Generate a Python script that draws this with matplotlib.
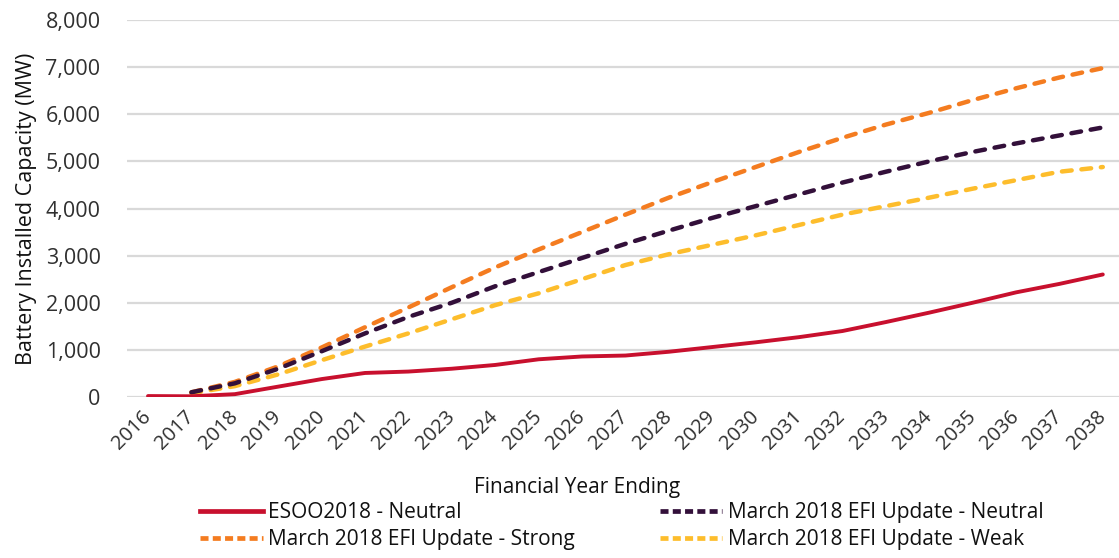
import numpy as np
import matplotlib
matplotlib.use("Agg")
import matplotlib.pyplot as plt
from matplotlib.lines import Line2D

# data (MW)
years = [str(y) for y in range(2016, 2039)]
esoo_neutral = [20, 15, 60, 220, 380, 510, 540, 600, 680, 800, 860, 880, 960,
                1060, 1160, 1270, 1400, 1590, 1790, 2000, 2220, 2400, 2600]
efi_neutral = [None, 100, 290, 600, 970, 1350, 1700, 2000, 2350, 2650, 2950, 3250,
               3530, 3800, 4050, 4300, 4550, 4780, 5000, 5200, 5380, 5550, 5720]
efi_strong = [None, 100, 320, 650, 1050, 1480, 1900, 2330, 2750, 3130, 3500, 3870,
              4230, 4560, 4880, 5200, 5500, 5780, 6030, 6300, 6550, 6780, 6980]
efi_weak = [None, 80, 230, 480, 780, 1070, 1350, 1650, 1950, 2200, 2500, 2800,
            3030, 3230, 3430, 3650, 3870, 4050, 4230, 4420, 4600, 4780, 4880]

c_red = "#C8102E"
c_purple = "#33103A"
c_orange = "#F47C20"
c_yellow = "#FDBD2C"

plt.rcParams['font.family'] = ['Open Sans', 'DejaVu Sans']

W, H = 1119, 558
fig = plt.figure(figsize=(W / 100, H / 100), dpi=100)
ax = fig.add_axes([127 / W, (H - 397) / H, (W - 127) / W, 377 / H])

x = np.arange(len(years))


def series(vals):
    return np.array([np.nan if v is None else v for v in vals], dtype=float)


dash = dict(dashes=(2.2, 2.2), dash_capstyle='round', lw=3.2)
ax.plot(x, series(efi_weak), color=c_yellow, **dash)
ax.plot(x, series(efi_strong), color=c_orange, **dash)
ax.plot(x, series(efi_neutral), color=c_purple, **dash)
ax.plot(x, series(esoo_neutral), color=c_red, lw=2.8, solid_capstyle='round')

ax.set_xlim(-0.484, -0.484 + (W - 127) / 43.4)
ax.set_ylim(0, 8000)
ax.set_yticks(range(0, 8001, 1000))
ax.set_yticklabels([f"{v:,}" for v in range(0, 8001, 1000)])
ax.set_xticks(x)
ax.set_xticklabels(years, rotation=45, ha='right', va='center',
                   rotation_mode='anchor')
ax.tick_params(axis='y', length=0, pad=19, labelsize=15.5, labelcolor='#303030')
ax.tick_params(axis='x', length=0, pad=12, labelsize=14.5, labelcolor='#303030')
ax.yaxis.grid(True, color='#D9D9D9', lw=1.6)
ax.set_axisbelow(True)
for s in ax.spines.values():
    s.set_visible(False)

ax.set_ylabel("Battery Installed Capacity (MW)", fontsize=15.5, color='#111111',
              labelpad=6)
fig.text(577 / W, 1 - 488 / H, "Financial Year Ending", ha='center', va='center',
         fontsize=15, color='#111111')

# legend in two columns
h_red = Line2D([], [], color=c_red, lw=3.4)
h_strong = Line2D([], [], color=c_orange, lw=3.4, dashes=(1.7, 0.9))
h_neutral = Line2D([], [], color=c_purple, lw=3.4, dashes=(1.7, 0.9))
h_weak = Line2D([], [], color=c_yellow, lw=3.4, dashes=(1.7, 0.9))

leg_kw = dict(frameon=False, fontsize=15, handlelength=3.0, handletextpad=0.25,
              labelspacing=0.3, borderaxespad=0, borderpad=0, loc='upper left')
leg1 = fig.legend([h_red, h_strong],
                  ["ESOO2018 - Neutral", "March 2018 EFI Update - Strong"],
                  bbox_to_anchor=(200 / W, 1 - 502 / H), **leg_kw)
leg2 = fig.legend([h_neutral, h_weak],
                  ["March 2018 EFI Update - Neutral", "March 2018 EFI Update - Weak"],
                  bbox_to_anchor=(660 / W, 1 - 502 / H), **leg_kw)
for leg in (leg1, leg2):
    for t in leg.get_texts():
        t.set_color('#111111')

fig.savefig("out.png", dpi=100)
